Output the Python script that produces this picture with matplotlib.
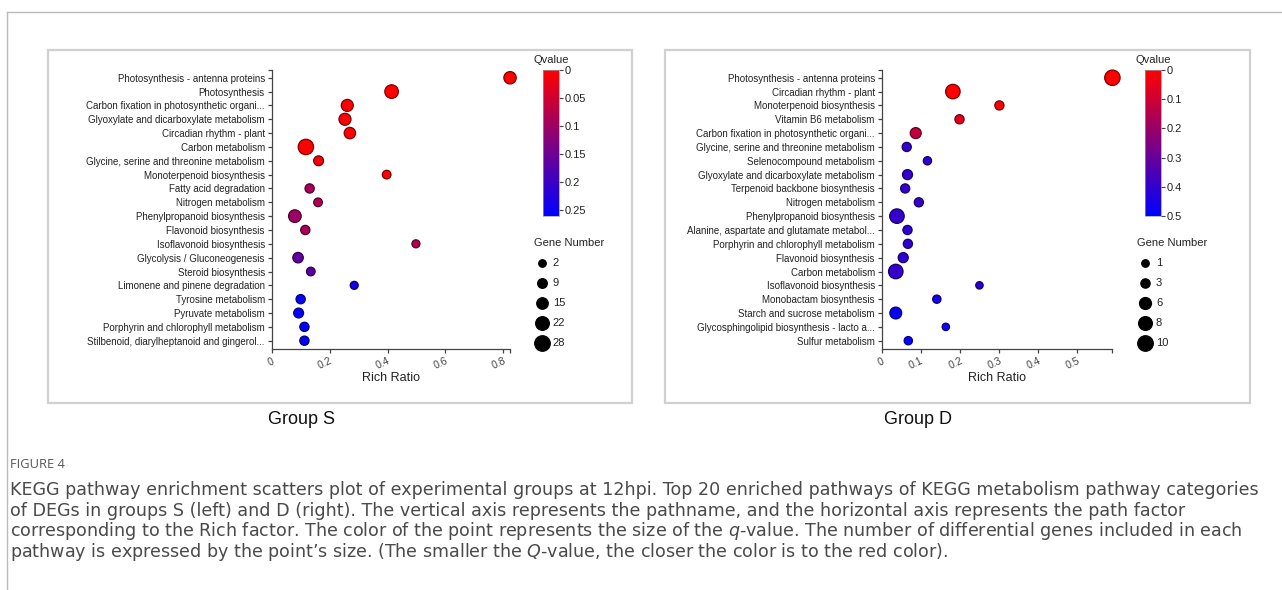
import matplotlib
matplotlib.use("Agg")
import matplotlib.pyplot as plt
from matplotlib.colors import LinearSegmentedColormap, Normalize
from matplotlib.colorbar import ColorbarBase
from matplotlib.patches import Rectangle
from matplotlib.lines import Line2D
import numpy as np

plt.rcParams['font.family'] = ['Liberation Sans', 'DejaVu Sans']
plt.rcParams['mathtext.fontset'] = 'custom'
plt.rcParams['mathtext.rm'] = 'DejaVu Sans'
plt.rcParams['mathtext.it'] = 'DejaVu Sans:italic'

W, H = 1282, 590

# ---- group S data
s_paths = [
    "Photosynthesis - antenna proteins",
    "Photosynthesis",
    "Carbon fixation in photosynthetic organi...",
    "Glyoxylate and dicarboxylate metabolism",
    "Circadian rhythm - plant",
    "Carbon metabolism",
    "Glycine, serine and threonine metabolism",
    "Monoterpenoid biosynthesis",
    "Fatty acid degradation",
    "Nitrogen metabolism",
    "Phenylpropanoid biosynthesis",
    "Flavonoid biosynthesis",
    "Isoflavonoid biosynthesis",
    "Glycolysis / Gluconeogenesis",
    "Steroid biosynthesis",
    "Limonene and pinene degradation",
    "Tyrosine metabolism",
    "Pyruvate metabolism",
    "Porphyrin and chlorophyll metabolism",
    "Stilbenoid, diarylheptanoid and gingerol...",
]
s_ratio = [0.823, 0.414, 0.261, 0.253, 0.270, 0.118, 0.162, 0.397, 0.131, 0.160,
           0.080, 0.116, 0.498, 0.091, 0.135, 0.285, 0.100, 0.093, 0.113, 0.113]
s_genes = [18, 22, 17, 17, 15, 28, 10, 6, 8, 6, 19, 8, 4, 12, 6, 4, 8, 10, 8, 8]
s_qvalue = [0.0, 0.0, 0.005, 0.005, 0.005, 0.0, 0.01, 0.005, 0.09, 0.085,
            0.10, 0.09, 0.08, 0.16, 0.17, 0.24, 0.255, 0.255, 0.255, 0.255]
s_qmax = 0.26
s_qticks = [0, 0.05, 0.1, 0.15, 0.2, 0.25]
s_xticks = [0, 0.2, 0.4, 0.6, 0.8]
s_gene_legend = [2, 9, 15, 22, 28]

# ---- group D data
d_paths = [
    "Photosynthesis - antenna proteins",
    "Circadian rhythm - plant",
    "Monoterpenoid biosynthesis",
    "Vitamin B6 metabolism",
    "Carbon fixation in photosynthetic organi...",
    "Glycine, serine and threonine metabolism",
    "Selenocompound metabolism",
    "Glyoxylate and dicarboxylate metabolism",
    "Terpenoid backbone biosynthesis",
    "Nitrogen metabolism",
    "Phenylpropanoid biosynthesis",
    "Alanine, aspartate and glutamate metabol...",
    "Porphyrin and chlorophyll metabolism",
    "Flavonoid biosynthesis",
    "Carbon metabolism",
    "Isoflavonoid biosynthesis",
    "Monobactam biosynthesis",
    "Starch and sucrose metabolism",
    "Glycosphingolipid biosynthesis - lacto a...",
    "Sulfur metabolism",
]
d_ratio = [0.590, 0.182, 0.301, 0.199, 0.087, 0.064, 0.117, 0.066, 0.060, 0.095,
           0.039, 0.066, 0.067, 0.055, 0.036, 0.250, 0.141, 0.036, 0.164, 0.068]
d_genes = [10, 9, 3, 3, 5, 3, 2, 4, 3, 3, 9, 3, 3, 4, 9, 1, 2, 6, 1, 2]
d_qvalue = [0.0, 0.0, 0.01, 0.06, 0.12, 0.40, 0.41, 0.40, 0.40, 0.40,
            0.40, 0.41, 0.41, 0.41, 0.40, 0.42, 0.46, 0.48, 0.47, 0.49]
d_qmax = 0.5
d_qticks = [0, 0.1, 0.2, 0.3, 0.4, 0.5]
d_xticks = [0, 0.1, 0.2, 0.3, 0.4, 0.5]
d_gene_legend = [1, 3, 6, 8, 10]

caption_head = "FIGURE 4"
caption_lines = [
    "KEGG pathway enrichment scatters plot of experimental groups at 12hpi. Top 20 enriched pathways of KEGG metabolism pathway categories",
    "of DEGs in groups S (left) and D (right). The vertical axis represents the pathname, and the horizontal axis represents the path factor",
    r"corresponding to the Rich factor. The color of the point represents the size of the $\it{q}$-value. The number of differential genes included in each",
    r"pathway is expressed by the point’s size. (The smaller the $\it{Q}$-value, the closer the color is to the red color).",
]

cmap = LinearSegmentedColormap.from_list("qv", ["#ff0000", "#0000ff"])


def rect(x0, y0, x1, y1):
    # pixel box -> figure fraction [left, bottom, width, height]
    return [x0 / W, 1 - y1 / H, (x1 - x0) / W, (y1 - y0) / H]


def area(g, gmin, gmax):
    r = 3.7 + (g - gmin) / (gmax - gmin) * 4.0   # radius in px
    return (2 * r * 0.72) ** 2


def fmt(v):
    return "0" if v == 0 else ("%g" % v)


def panel(fig, paths, ratio, genes, qv, qmax, qticks, xticks, gleg, lay, title):
    n = len(paths)
    ypos = np.arange(n)[::-1]
    xmax = max(ratio)
    ax = fig.add_axes(rect(lay["x0"], 70, lay["x0"] + xmax * lay["ppu"], 349))
    norm = Normalize(0, qmax)
    fc = cmap(norm(np.array(qv)))
    ec = fc.copy()
    ec[:, :3] *= 0.5
    sizes = [area(g, gleg[0], gleg[-1]) for g in genes]
    ax.scatter(ratio, ypos, s=sizes, c=fc, edgecolors=ec, linewidths=0.9,
               zorder=3, clip_on=False)
    ax.set_xlim(0, xmax)
    ax.set_ylim(-0.6, n - 1 + 0.56)
    ax.set_yticks(list(ypos) + [n - 1 + 0.56])
    ax.set_yticklabels(paths + [""], fontsize=7, color="#222222")
    ax.set_xticks(xticks + [xmax])
    ax.set_xticklabels([fmt(t) for t in xticks] + [""], fontsize=7.5,
                       color="#444444", rotation=25, ha="right",
                       rotation_mode="anchor")
    ax.tick_params(length=3, width=0.9, color="#444444", pad=2)
    ax.tick_params(axis="x", pad=2)
    for s in ("top", "right"):
        ax.spines[s].set_visible(False)
    for s in ("left", "bottom"):
        ax.spines[s].set_color("#444444")
        ax.spines[s].set_linewidth(0.9)
    ax.set_xlabel("Rich Ratio", fontsize=9, color="#222222")
    ax.xaxis.set_label_coords(0.5, -0.084)

    cax = fig.add_axes(rect(lay["cb_x0"], 70, lay["cb_x0"] + 16, 216))
    cb = ColorbarBase(cax, cmap=cmap, norm=norm, orientation="vertical")
    cax.invert_yaxis()
    cb.set_ticks(qticks)
    cb.set_ticklabels([fmt(t) for t in qticks])
    cax.tick_params(labelsize=8, length=3, width=0.8, color="#444444",
                    labelcolor="#222222", pad=1)
    cb.outline.set_edgecolor("#9999aa")
    cb.outline.set_linewidth(0.5)
    cax.set_title("Qvalue", fontsize=8, color="#222222", pad=5)

    handles = [ax.scatter([], [], s=area(g, gleg[0], gleg[-1]), c="black")
               for g in gleg]
    leg = ax.legend(handles, [str(g) for g in gleg], title="Gene Number",
                    loc="upper left",
                    bbox_to_anchor=(lay["leg_x"] / W, 1 - 238 / H),
                    bbox_transform=fig.transFigure, frameon=False,
                    fontsize=8, title_fontsize=8, alignment="left",
                    handlelength=1.4, handletextpad=0.3, labelspacing=0.9,
                    borderpad=0, borderaxespad=0)
    leg.get_title().set_color("#222222")
    for t in leg.get_texts():
        t.set_color("#222222")

    fig.patches.append(Rectangle((lay["box"][0] / W, 1 - 403 / H),
                                 (lay["box"][1] - lay["box"][0]) / W, 353 / H,
                                 transform=fig.transFigure, fill=False,
                                 edgecolor="#d0d0d0", linewidth=1.6))
    fig.text(lay["label_x"] / W, 1 - 420 / H, title, fontsize=13,
             ha="center", va="center", color="#111111")


fig = plt.figure(figsize=(W / 100, H / 100), dpi=100)
fig.add_artist(Line2D([7 / W, 1], [1 - 12 / H, 1 - 12 / H],
                      transform=fig.transFigure, color="#bbbbbb", lw=1))
fig.add_artist(Line2D([7 / W, 7 / W], [0, 1 - 12 / H],
                      transform=fig.transFigure, color="#bbbbbb", lw=1))

panel(fig, s_paths, s_ratio, s_genes, s_qvalue, s_qmax, s_qticks, s_xticks,
      s_gene_legend,
      dict(x0=271.7, ppu=289.6, cb_x0=543, leg_x=534, box=(48, 632),
           label_x=302), "Group S")
panel(fig, d_paths, d_ratio, d_genes, d_qvalue, d_qmax, d_qticks, d_xticks,
      d_gene_legend,
      dict(x0=881.7, ppu=391.0, cb_x0=1145, leg_x=1137, box=(665, 1250),
           label_x=918), "Group D")

fig.text(10 / W, 1 - 465 / H, caption_head, fontsize=9.3, color="#555555",
         family="Open Sans", va="center")
for i, line in enumerate(caption_lines):
    fig.text(10 / W, 1 - (490 + 20.7 * i) / H, line, fontsize=12.6,
             color="#4a4a4a", family="DejaVu Sans", va="center")

fig.savefig("out.png", dpi=100)
